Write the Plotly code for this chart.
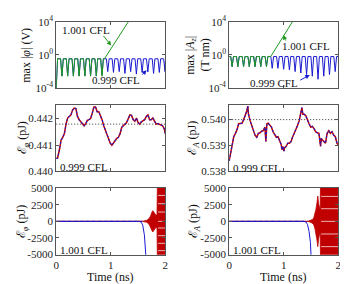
import plotly.graph_objects as go

# ---------------- data ----------------
time_ticks = [0, 1, 2]

# top-left: max|phi| (V)
phi_t_999 = [0, 0.025, 0.08, 0.105, 0.13, 0.185, 0.21, 0.235, 0.29, 0.315, 0.34, 0.395,
             0.42, 0.445, 0.5, 0.525, 0.55, 0.605, 0.63, 0.655, 0.71, 0.735, 0.76, 0.815,
             0.84, 0.865, 0.92, 0.945, 0.97, 1.025, 1.05, 1.075, 1.13, 1.155, 1.18, 1.235,
             1.26, 1.285, 1.34, 1.365, 1.39, 1.445, 1.47, 1.495, 1.55, 1.575, 1.6, 1.655,
             1.68, 1.705, 1.76, 1.785, 1.81, 1.865, 1.89, 1.915, 1.97, 1.995, 2.0]
phi_v_999 = [1e-4, 0.35, 0.35, 0.003, 0.35, 0.35, 0.003, 0.35, 0.35, 0.003, 0.35, 0.35,
             0.003, 0.35, 0.35, 0.003, 0.35, 0.35, 0.003, 0.35, 0.35, 0.003, 0.35, 0.35,
             0.004, 0.35, 0.35, 0.01, 0.35, 0.35, 0.008, 0.35, 0.35, 0.01, 0.35, 0.35,
             0.006, 0.35, 0.35, 0.01, 0.35, 0.35, 0.005, 0.35, 0.35, 0.008, 0.35, 0.35,
             0.009, 0.35, 0.35, 0.006, 0.35, 0.35, 0.008, 0.35, 0.35, 0.01, 0.2]
phi_t_1001 = [0, 0.025, 0.08, 0.105, 0.13, 0.185, 0.21, 0.235, 0.29, 0.315, 0.34, 0.395,
              0.42, 0.445, 0.5, 0.525, 0.55, 0.605, 0.63, 0.655, 0.71, 0.735, 0.76, 0.815,
              0.84, 0.865, 0.885, 1.0, 1.1, 1.2, 1.3, 1.36]
phi_v_1001 = [1e-4, 0.35, 0.35, 0.0028, 0.35, 0.35, 0.0028, 0.35, 0.35, 0.0028, 0.35, 0.35,
              0.0028, 0.35, 0.35, 0.0028, 0.35, 0.35, 0.0028, 0.35, 0.35, 0.0028, 0.35, 0.35,
              0.0028, 0.35, 0.35, 5.1, 54, 560, 5900, 24000]

# top-right: max|Az| (T nm)
az_t_999 = [0, 0.029, 0.054, 0.079, 0.134, 0.159, 0.184, 0.239, 0.264, 0.289, 0.344,
            0.369, 0.394, 0.449, 0.474, 0.499, 0.554, 0.579, 0.604, 0.659, 0.684, 0.709,
            0.764, 0.789, 0.814, 0.869, 0.894, 0.919, 0.974, 0.999, 1.024, 1.079, 1.104,
            1.129, 1.184, 1.209, 1.234, 1.289, 1.314, 1.339, 1.394, 1.419, 1.444, 1.499,
            1.524, 1.549, 1.604, 1.629, 1.654, 1.709, 1.734, 1.759, 1.814, 1.839, 1.864,
            1.919, 1.944, 1.969, 2.0]
az_v_999 = [0.65, 0.65, 0.04, 0.65, 0.65, 0.04, 0.65, 0.65, 0.04, 0.65, 0.65,
            0.04, 0.65, 0.65, 0.04, 0.65, 0.65, 0.04, 0.65, 0.65, 0.04, 0.65,
            0.65, 0.025, 0.65, 0.65, 0.025, 0.65, 0.65, 0.019, 0.65, 0.65, 0.016,
            0.65, 0.65, 0.01, 0.65, 0.65, 0.0068, 0.65, 0.65, 0.0044, 0.65, 0.65,
            0.0028, 0.65, 0.65, 0.0012, 0.65, 0.65, 0.0028, 0.65, 0.65, 0.0044, 0.65,
            0.65, 0.01, 0.65, 0.65]
az_t_1001 = [0, 0.029, 0.054, 0.079, 0.134, 0.159, 0.184, 0.239, 0.264, 0.289, 0.344,
             0.369, 0.394, 0.449, 0.474, 0.499, 0.554, 0.579, 0.604, 0.659, 0.684, 0.709,
             0.762, 0.8, 0.9, 1.0, 1.1, 1.17]
az_v_1001 = [0.65, 0.65, 0.04, 0.65, 0.65, 0.04, 0.65, 0.65, 0.04, 0.65, 0.65,
             0.04, 0.65, 0.65, 0.04, 0.65, 0.65, 0.04, 0.65, 0.65, 0.04, 0.65,
             0.65, 1.6, 18, 200, 2300, 12600]

# middle-left: E_phi (pJ), 0.999 CFL
ephi_t = [0.0, 0.024, 0.06, 0.09, 0.12, 0.15, 0.18, 0.21, 0.24, 0.27, 0.3, 0.33, 0.36,
          0.39, 0.42, 0.45, 0.48, 0.511, 0.541, 0.571, 0.601, 0.631, 0.661, 0.691, 0.721,
          0.751, 0.781, 0.811, 0.841, 0.871, 0.901, 0.931, 0.961, 0.991, 1.021, 1.051,
          1.081, 1.111, 1.141, 1.171, 1.201, 1.231, 1.261, 1.291, 1.321, 1.351, 1.381,
          1.411, 1.441, 1.471, 1.502, 1.532, 1.562, 1.592, 1.622, 1.652, 1.682, 1.712,
          1.742, 1.772, 1.802, 1.832, 1.862, 1.892, 1.922, 1.952, 1.982, 2.0]
ephi_v = [0.44050, 0.44050, 0.44083, 0.44119, 0.44129, 0.44143, 0.44179, 0.44202, 0.44208,
          0.44214, 0.44232, 0.44240, 0.44238, 0.44208, 0.44196, 0.44188, 0.44179, 0.44173,
          0.44181, 0.44193, 0.44196, 0.44200, 0.44220, 0.44244, 0.44244, 0.44226, 0.44226,
          0.44214, 0.44196, 0.44173, 0.44155, 0.44143, 0.44125, 0.44107, 0.44099, 0.44107,
          0.44119, 0.44125, 0.44129, 0.44143, 0.44167, 0.44175, 0.44179, 0.44185, 0.44202,
          0.44214, 0.44212, 0.44196, 0.44190, 0.44202, 0.44185, 0.44179, 0.44188, 0.44193,
          0.44196, 0.44208, 0.44214, 0.44196, 0.44196, 0.44202, 0.44190, 0.44179, 0.44181,
          0.44179, 0.44176, 0.44173, 0.44161, 0.44143]
ephi_ref = 0.44179

# middle-right: E_A (pJ), 0.999 CFL
ea_t = [0.0, 0.024, 0.054, 0.084, 0.114, 0.144, 0.174, 0.204, 0.234, 0.264, 0.294, 0.324,
        0.342, 0.354, 0.384, 0.414, 0.444, 0.474, 0.505, 0.535, 0.565, 0.595, 0.625, 0.643,
        0.655, 0.673, 0.691, 0.715, 0.745, 0.775, 0.805, 0.835, 0.865, 0.895, 0.925, 0.955,
        0.967, 0.985, 1.003, 1.015, 1.045, 1.075, 1.105, 1.135, 1.165, 1.195, 1.225, 1.255,
        1.285, 1.315, 1.333, 1.351, 1.375, 1.405, 1.435, 1.465, 1.495, 1.526, 1.556, 1.586,
        1.616, 1.646, 1.676, 1.688, 1.706, 1.736, 1.766, 1.796, 1.826, 1.856, 1.886, 1.916,
        1.946, 1.976, 2.0]
ea_v = [0.53841, 0.53866, 0.53909, 0.53934, 0.53947, 0.53961, 0.53984, 0.53986, 0.53986,
        0.53999, 0.54015, 0.54034, 0.54052, 0.54021, 0.53996, 0.53978, 0.53959, 0.53940,
        0.53932, 0.53947, 0.53949, 0.53955, 0.53957, 0.53965, 0.53971, 0.53916, 0.53984,
        0.53986, 0.53978, 0.53971, 0.53953, 0.53940, 0.53932, 0.53934, 0.53916, 0.53903,
        0.53884, 0.53897, 0.53878, 0.53891, 0.53897, 0.53909, 0.53909, 0.53916, 0.53934,
        0.53947, 0.53959, 0.53978, 0.53996, 0.54027, 0.54046, 0.54021, 0.54021, 0.54015,
        0.53996, 0.53984, 0.53971, 0.53974, 0.53965, 0.53953, 0.53949, 0.53947, 0.53897,
        0.53928, 0.53922, 0.53916, 0.53909, 0.53947, 0.53957, 0.53947, 0.53953, 0.53940,
        0.53934, 0.53909, 0.53903]
ea_ref = 0.540

# bottom-left: E_phi (pJ), 1.001 CFL
bl_blue_t = [0, 1.53, 1.56, 1.586, 1.616, 1.634, 1.645, 1.66]
bl_blue_v = [0, 0, -150, -570, -2000, -3430, -5000, -7000]
bl_red_t = [0, 1.58]
bl_red_v = [0, 0]
bl_env_t = [1.58, 1.62, 1.66, 1.70, 1.73, 1.75, 1.77, 1.79, 1.81, 1.83, 1.848, 1.856, 2.0]
bl_env_v = [0, 30, 150, 400, 800, 1300, 1600, 1400, 1100, 900, 1000, 6000, 6000]
bl_block_start = 1.856
bl_gap_levels = [3900, 2650, 1400, 0, -1000, -2150, -3300, -4400]

# bottom-right: E_A (pJ), 1.001 CFL
br_blue_t = [0, 1.37, 1.41, 1.436, 1.465, 1.49, 1.5, 1.52]
br_blue_v = [0, 0, -120, -470, -1530, -3190, -5000, -8000]
br_red_t = [0, 1.44]
br_red_v = [0, 0]
br_env_t = [1.44, 1.48, 1.52, 1.55, 1.57, 1.59, 1.61, 1.625, 1.64, 1.655, 1.668, 1.676, 2.0]
br_env_v = [0, 100, 250, 500, 1000, 1800, 2800, 3800, 2600, 2000, 1800, 6000, 6000]
br_block_start = 1.676
br_gap_levels = [3750, 1900, 0, -1900, -3800]

# ---------------- styling ----------------
GREEN = "#1f9a1f"
BLUE = "#1a1ad0"
RED = "#c00000"
FRAME = "#555555"
SERIF = "Liberation Serif"
W, H = 348, 284

def px(x):
    return x / W

def py(y):
    return 1 - y / H

xL = [px(46), px(157)]
xR = [px(222), px(333)]
y1 = [py(76), py(6)]
y2 = [py(163.5), py(94)]
y3 = [py(251), py(181)]

fig = go.Figure()

def line(x, y, xa, ya, color, width=1.0, dash=None):
    fig.add_trace(go.Scatter(x=x, y=y, xaxis=xa, yaxis=ya, mode="lines",
                             line=dict(color=color, width=width, dash=dash),
                             hoverinfo="skip", showlegend=False))

def envelope(t, v, xa, ya):
    xs = list(t) + list(reversed(t))
    ys = list(v) + [-a for a in reversed(v)]
    fig.add_trace(go.Scatter(x=xs, y=ys, xaxis=xa, yaxis=ya, mode="lines",
                             fill="toself", fillcolor=RED,
                             line=dict(color=RED, width=0.8),
                             hoverinfo="skip", showlegend=False))

def gaps(levels, start, xa, ya):
    xs, ys = [], []
    for lv in levels:
        xs += [start + 0.01, 2.0, None]
        ys += [lv, lv, None]
    fig.add_trace(go.Scatter(x=xs, y=ys, xaxis=xa, yaxis=ya, mode="lines",
                             line=dict(color="rgba(255,255,255,0.7)", width=1),
                             hoverinfo="skip", showlegend=False))

# top panels
line(phi_t_999, phi_v_999, "x", "y", BLUE, 1.0)
line(phi_t_1001, phi_v_1001, "x", "y", GREEN, 1.0)
line(az_t_999, az_v_999, "x2", "y2", BLUE, 1.0)
line(az_t_1001, az_v_1001, "x2", "y2", GREEN, 1.0)

# middle panels
line([0, 2], [ephi_ref, ephi_ref], "x3", "y3", "#333333", 1.0, "1px,2px")
line(ephi_t, ephi_v, "x3", "y3", RED, 1.5)
line(ephi_t, ephi_v, "x3", "y3", BLUE, 1.1, "2px,2px")
line([0, 2], [ea_ref, ea_ref], "x4", "y4", "#333333", 1.0, "1px,2px")
line(ea_t, ea_v, "x4", "y4", RED, 1.5)
line(ea_t, ea_v, "x4", "y4", BLUE, 1.1, "2px,2px")

# bottom panels
line(bl_red_t, bl_red_v, "x5", "y5", RED, 1.3)
envelope(bl_env_t, bl_env_v, "x5", "y5")
gaps(bl_gap_levels, bl_block_start, "x5", "y5")
line(bl_blue_t, bl_blue_v, "x5", "y5", BLUE, 1.0)
line(bl_red_t, bl_red_v, "x5", "y5", BLUE, 1.0, "3px,3px")

line(br_red_t, br_red_v, "x6", "y6", RED, 1.3)
envelope(br_env_t, br_env_v, "x6", "y6")
gaps(br_gap_levels, br_block_start, "x6", "y6")
line(br_blue_t, br_blue_v, "x6", "y6", BLUE, 1.0)
line(br_red_t, br_red_v, "x6", "y6", BLUE, 1.0, "3px,3px")

tickfont = dict(family=SERIF, size=11, color="#222")
common = dict(showline=True, mirror="ticks", linecolor=FRAME, linewidth=1,
              ticks="inside", ticklen=3, tickcolor=FRAME, showgrid=False,
              zeroline=False, tickfont=tickfont, fixedrange=True)

def xaxis(dom, anchor, labels):
    return dict(domain=dom, anchor=anchor, range=[0, 2], tickvals=time_ticks,
                ticktext=[str(t) for t in time_ticks], showticklabels=labels, **common)

logtext = ["10<sup>-4</sup>", "10<sup>0</sup>", "10<sup>4</sup>"]
layout = dict(
    width=W, height=H, margin=dict(l=0, r=0, t=0, b=0),
    paper_bgcolor="white", plot_bgcolor="white", showlegend=False,
    font=dict(family=SERIF, size=11, color="#222"),
    xaxis=xaxis(xL, "y", False),
    xaxis2=xaxis(xR, "y2", False),
    xaxis3=xaxis(xL, "y3", False),
    xaxis4=xaxis(xR, "y4", False),
    xaxis5=xaxis(xL, "y5", True),
    xaxis6=xaxis(xR, "y6", True),
    yaxis=dict(domain=y1, anchor="x", type="log", range=[-4, 4],
               tickvals=[1e-4, 1, 1e4], ticktext=logtext, **common),
    yaxis2=dict(domain=y1, anchor="x2", type="log", range=[-4, 4],
                tickvals=[1e-4, 1, 1e4], ticktext=logtext, **common),
    yaxis3=dict(domain=y2, anchor="x3", range=[0.440, 0.4425],
                tickvals=[0.440, 0.441, 0.442], ticktext=["0.440", "0.441", "0.442"], **common),
    yaxis4=dict(domain=y2, anchor="x4", range=[0.538, 0.54055],
                tickvals=[0.538, 0.539, 0.540], ticktext=["0.538", "0.539", "0.540"], **common),
    yaxis5=dict(domain=y3, anchor="x5", range=[-5000, 5000],
                tickvals=[-5000, -2500, 0, 2500, 5000],
                ticktext=["-5000", "-2500", "0", "2500", "5000"], **common),
    yaxis6=dict(domain=y3, anchor="x6", range=[-5000, 5000],
                tickvals=[-5000, -2500, 0, 2500, 5000],
                ticktext=["-5000", "-2500", "0", "2500", "5000"], **common),
)
fig.update_layout(**layout)

ann = []
def text(x, y, s, size=11, angle=0, xanchor="center"):
    ann.append(dict(x=px(x), y=py(y), xref="paper", yref="paper", text=s, showarrow=False,
                    textangle=angle, xanchor=xanchor, yanchor="middle",
                    font=dict(family=SERIF, size=size, color="#111")))

def arrow(hx, hy, tx, ty, color):
    ann.append(dict(x=px(hx), y=py(hy), xref="paper", yref="paper", text="",
                    showarrow=True, ax=tx - hx, ay=ty - hy, arrowhead=2, arrowsize=0.9,
                    arrowwidth=1, arrowcolor=color))

# axis titles
text(15, 41, "max |<i>φ</i>| (V)", 12, -90)
text(183, 41, "max |<i>A<sub>z</sub></i>|", 12, -90)
text(197, 41, "(T nm)", 12, -90)
text(12, 128, "ℰ<sub><i>φ</i></sub> (pJ)", 12, -90)
text(185, 128, "ℰ<sub><i>A</i></sub> (pJ)", 12, -90)
text(12, 216, "ℰ<sub><i>φ</i></sub> (pJ)", 12, -90)
text(187, 216, "ℰ<sub><i>A</i></sub> (pJ)", 12, -90)
text(101.5, 275, "Time (ns)", 12)
text(277.5, 275, "Time (ns)", 12)

# panel labels
text(76, 15, "1.001 CFL")
arrow(102, 31, 93, 20, GREEN)
text(107, 67, "0.999 CFL")
arrow(138, 57, 132, 63, BLUE)
text(300, 32, "1.001 CFL")
arrow(277, 20, 280, 27, GREEN)
text(268, 70, "0.999 CFL")
arrow(304, 62, 293, 68, BLUE)
text(47.5, 159, "0.999 CFL", xanchor="left")
text(223.5, 160, "0.999 CFL", xanchor="left")
text(47.5, 246.5, "1.001 CFL", xanchor="left")
text(223.5, 246.5, "1.001 CFL", xanchor="left")

fig.update_layout(annotations=ann)
fig.write_html("out.html")
